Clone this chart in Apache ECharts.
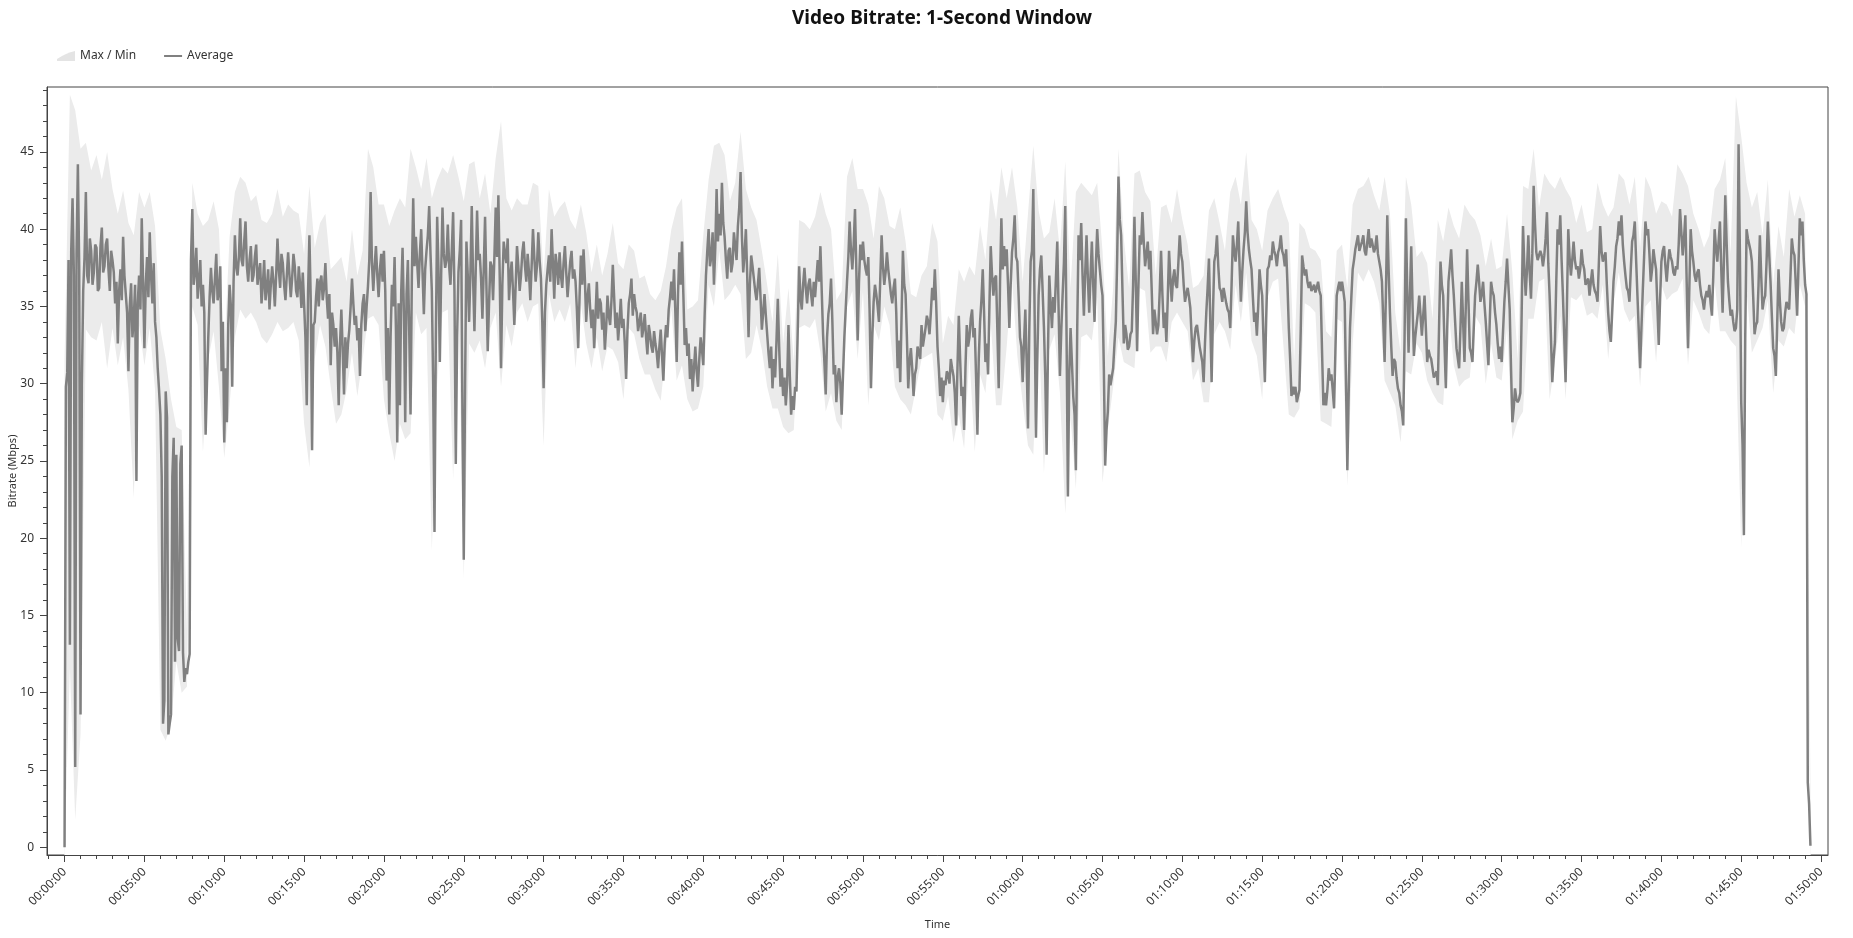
<!DOCTYPE html>
<html>
<head>
<meta charset="utf-8">
<title>Video Bitrate: 1-Second Window</title>
<script src="https://cdn.jsdelivr.net/npm/echarts@6/dist/echarts.min.js"></script>
<style>
  html, body { margin: 0; padding: 0; background: #fff; }
  #chart { width: 1853px; height: 938px; }
</style>
</head>
<body>
<div id="chart"></div>
<script>
// average bitrate (Mbps) read every 10 s (t = 0, 10, 20 ...), one row per minute
const AVG_STEP = 10
const avgMbps = [
  0, 30.7, 13.1, 42.0, 5.2, 44.2,
  8.6, 36.0, 42.4, 36.5, 38.6, 37.2,
  38.8, 36.2, 40.1, 37.6, 39.4, 36.0,
  38.0, 35.2, 32.6, 37.4, 39.5, 35.8,
  30.8, 36.5, 34.2, 23.7, 37.0, 40.7,
  32.3, 38.2, 39.8, 35.2, 34.0, 31.0,
  28.0, 8.0, 29.5, 7.3, 8.6, 26.5,
  25.4, 12.7, 26.0, 10.7, 11.2, 12.5,
  41.3, 37.2, 35.5, 38.0, 36.4, 26.7,
  33.0, 37.5, 35.2, 38.4, 36.0, 30.8,
  26.2, 27.5, 36.4, 29.8, 39.6, 37.0,
  40.7, 37.6, 40.5, 36.6, 38.9, 37.0,
  39.0, 37.2, 35.2, 38.0, 36.2, 34.8,
  37.6, 35.0, 39.4, 36.2, 37.8, 35.4,
  38.5, 35.6, 38.4, 36.0, 37.6, 34.9,
  35.2, 28.6, 39.6, 25.7, 34.0, 36.8,
  36.6, 35.4, 37.8, 34.2, 31.2, 33.8,
  33.6, 28.6, 34.8, 29.3, 31.0, 33.5,
  36.8, 33.8, 32.8, 30.5, 35.2, 33.4,
  36.3, 42.4, 36.0, 38.9, 35.6, 38.4,
  38.6, 30.2, 28.0, 36.4, 38.2, 26.2,
  28.6, 38.8, 27.5, 38.0, 28.0, 42.0,
  39.5, 36.2, 40.0, 34.5, 38.6, 41.5,
  36.0, 20.4, 40.8, 31.4, 41.4, 37.5,
  40.3, 36.4, 41.1, 24.8, 37.2, 40.6,
  18.6, 39.2, 34.0, 41.5, 33.4, 41.2,
  38.4, 34.2, 40.8, 32.1, 37.9, 35.4,
  41.4, 42.2, 31.0, 39.2, 37.8, 35.4,
  37.9, 33.8, 38.9, 36.0, 38.5, 37.6,
  38.4, 35.4, 40.0, 36.6, 39.8, 36.8,
  29.7, 36.4, 38.3, 40.0, 35.5, 37.6,
  38.5, 36.2, 38.9, 35.6, 37.9, 36.8,
  36.6, 32.3, 38.3, 38.7, 34.0, 36.5,
  33.6, 32.3, 36.6, 35.5, 33.5, 32.2,
  35.7, 33.8, 37.7, 33.6, 32.8, 35.5,
  34.2, 30.3, 35.2, 36.8, 35.8, 34.6,
  34.0, 33.0, 34.5, 31.9, 33.2, 32.0,
  32.6, 31.0, 33.5, 30.2, 33.8, 34.8,
  36.6, 37.4, 31.4, 38.5, 39.2, 32.5,
  31.8, 30.3, 29.5, 32.4, 29.8, 33.0,
  31.2, 37.0, 40.0, 38.2, 36.4, 42.6,
  41.0, 43.0, 39.5, 36.8, 38.8, 37.8,
  38.9, 40.2, 43.7, 37.2, 40.0, 33.0,
  38.3, 36.8, 35.4, 37.5, 33.5, 35.8,
  33.2, 31.0, 29.7, 30.4, 35.5, 29.8,
  29.2, 28.6, 33.8, 28.0, 28.3, 29.5,
  37.6, 34.8, 37.5, 35.2, 36.8, 35.0,
  35.6, 38.0, 38.9, 33.2, 29.3, 34.5,
  36.8, 30.6, 28.8, 31.0, 28.0, 33.0,
  36.6, 40.5, 37.4, 41.3, 32.8, 39.0,
  39.2, 37.4, 38.2, 29.7, 35.3, 35.8,
  34.0, 39.6, 36.4, 38.5, 36.6, 35.2,
  36.8, 31.0, 30.1, 38.6, 35.8, 29.7,
  32.3, 29.2, 31.0, 32.3, 33.8, 33.0,
  34.4, 33.2, 36.2, 37.4, 32.4, 29.2,
  28.8, 29.9, 30.6, 31.6, 30.5, 27.3,
  34.4, 29.2, 27.0, 33.8, 33.0, 34.8,
  33.6, 26.7, 34.0, 37.4, 31.4, 30.6,
  38.9, 35.7, 37.0, 29.7, 40.7, 38.9,
  38.7, 33.6, 38.5, 40.9, 37.9, 33.0,
  30.1, 34.8, 27.1, 37.9, 42.6, 26.5,
  35.7, 38.3, 33.6, 25.4, 37.0, 33.6,
  34.6, 39.2, 30.5, 35.7, 41.5, 22.7,
  33.6, 29.2, 24.4, 39.6, 40.4, 34.4,
  39.6, 34.6, 39.2, 34.0, 40.0, 37.4,
  35.7, 24.7, 28.2, 29.9, 31.0, 34.0,
  43.4, 39.6, 32.6, 33.2, 32.4, 33.4,
  40.8, 32.1, 39.6, 41.1, 37.6, 39.2,
  38.6, 33.2, 34.0, 33.8, 38.6, 33.6,
  32.7, 38.6, 35.3, 37.4, 36.2, 39.6,
  37.9, 35.3, 36.2, 34.9, 31.4, 33.6,
  33.1, 32.3, 30.1, 34.6, 38.1, 30.1,
  37.9, 39.6, 36.2, 35.3, 35.7, 34.8,
  33.6, 39.6, 37.9, 40.5, 35.3, 38.7,
  41.8, 38.7, 37.4, 34.0, 33.1, 37.4,
  35.7, 30.1, 37.4, 38.3, 39.2, 38.3,
  38.5, 39.6, 38.3, 38.7, 33.6, 29.2,
  29.3, 28.8, 29.6, 38.3, 37.0, 36.6,
  36.6, 36.2, 35.9, 36.6, 35.7, 28.6,
  28.6, 31.0, 30.6, 28.4, 35.7, 36.6,
  36.6, 35.3, 24.4, 33.6, 37.4, 38.7,
  39.6, 38.7, 39.6, 38.3, 40.0, 39.4,
  38.5, 39.6, 37.9, 36.6, 31.4, 40.9,
  34.6, 30.5, 31.4, 29.7, 28.6, 27.3,
  40.7, 32.0, 38.9, 31.8, 33.8, 35.7,
  33.1, 35.7, 31.4, 31.8, 31.0, 30.5,
  29.9, 37.9, 35.7, 29.7, 36.6, 38.7,
  35.7, 32.3, 31.0, 36.6, 31.4, 38.7,
  32.3, 31.4, 35.7, 37.7, 35.3, 36.6,
  34.0, 31.2, 36.6, 35.7, 33.8, 31.6,
  31.4, 35.3, 38.1, 34.8, 27.5, 29.7,
  28.8, 29.4, 40.2, 35.7, 39.6, 35.5,
  42.8, 38.5, 37.9, 38.3, 38.3, 41.1,
  35.7, 30.1, 32.7, 40.0, 40.9, 35.7,
  30.1, 40.0, 37.0, 39.2, 37.4, 36.8,
  38.7, 37.4, 36.6, 35.7, 37.4, 36.0,
  35.3, 40.2, 37.9, 38.5, 34.6, 32.7,
  36.6, 38.9, 40.5, 40.9, 37.9, 36.2,
  35.3, 39.2, 40.5, 35.7, 31.0, 36.0,
  40.5, 40.0, 36.6, 38.7, 37.4, 32.5,
  37.9, 38.9, 36.6, 38.7, 37.9, 37.0,
  37.4, 41.3, 38.3, 40.9, 32.3, 40.0,
  37.9, 36.6, 37.4, 35.7, 34.8, 36.0,
  36.4, 34.4, 40.0, 37.9, 40.5, 34.6,
  42.2, 36.6, 34.4, 34.0, 33.6, 45.5,
  28.8, 20.2, 40.0, 39.0, 37.9, 33.2,
  34.0, 39.6, 34.8, 35.7, 40.5, 36.6,
  32.3, 30.5, 37.4, 34.0, 33.6, 35.3,
  34.8, 39.4, 38.3, 34.4, 40.7, 40.5,
  36.4, 4.2, 0.1
]
// average bitrate read half-way between those (t = 5, 15, 25 ...), one row per minute
const avgMidMbps = [
  29.8, 38.0, 38.6, 37.0, 38.4, 37.5,
  30.0, 38.2, 37.0, 39.4, 36.4, 39.0,
  36.0, 38.9, 37.2, 39.0, 37.4, 38.6,
  37.2, 36.6, 36.0, 35.4, 37.0, 34.6,
  35.0, 33.0, 36.4, 35.2, 34.8, 36.6,
  36.4, 35.6, 37.0, 37.8, 33.0, 29.6,
  24.0, 9.5, 27.8, 8.0, 24.0, 12.0,
  13.5, 24.8, 12.6, 11.6, 12.0, 38.0,
  36.4, 38.8, 36.6, 35.0, 34.6, 30.0,
  35.6, 36.0, 36.8, 35.4, 37.6, 34.0,
  31.0, 33.8, 35.0, 36.6, 37.6, 38.2,
  38.0, 39.2, 37.6, 38.0, 36.6, 38.2,
  36.4, 37.8, 36.4, 35.4, 37.4, 36.4,
  36.6, 37.0, 37.4, 38.4, 36.4, 37.0,
  37.0, 36.8, 37.6, 35.6, 36.4, 37.2,
  33.0, 36.0, 35.4, 33.8, 35.6, 35.0,
  37.0, 36.2, 35.6, 35.8, 34.6, 32.4,
  32.0, 32.6, 32.2, 33.0, 32.6, 35.0,
  35.2, 34.4, 33.6, 33.8, 35.8, 35.0,
  38.0, 37.8, 37.6, 37.0, 37.4, 36.6,
  36.0, 33.6, 33.0, 35.0, 33.6, 35.2,
  36.0, 34.6, 35.8, 33.4, 37.0, 37.6,
  37.8, 38.4, 37.2, 37.4, 39.6, 38.4,
  30.0, 33.0, 37.4, 37.0, 38.4, 38.0,
  37.6, 38.6, 36.0, 33.0, 38.6, 28.0,
  30.0, 37.0, 37.2, 36.8, 37.4, 38.0,
  36.8, 37.4, 36.4, 35.2, 37.6, 38.2,
  38.2, 37.0, 36.4, 38.4, 39.4, 37.0,
  36.0, 36.4, 37.6, 37.0, 39.2, 36.6,
  37.2, 37.6, 38.2, 37.6, 38.0, 34.0,
  34.6, 37.4, 36.6, 37.8, 38.4, 36.4,
  37.0, 37.8, 37.2, 36.8, 38.6, 37.4,
  34.8, 35.6, 36.4, 36.8, 35.6, 34.8,
  34.8, 34.4, 34.2, 35.2, 34.6, 33.6,
  34.4, 35.4, 35.6, 34.6, 34.0, 33.6,
  32.6, 33.4, 35.8, 34.4, 35.0, 33.4,
  34.6, 33.6, 33.0, 33.8, 32.4, 33.4,
  32.0, 32.4, 31.8, 32.6, 33.0, 35.6,
  35.4, 34.6, 35.8, 36.4, 35.8, 33.6,
  32.6, 31.6, 31.0, 30.8, 31.6, 32.2,
  34.4, 38.6, 37.6, 39.8, 38.8, 39.2,
  39.6, 40.4, 38.0, 38.6, 37.2, 39.8,
  38.0, 41.4, 39.6, 38.4, 37.0, 36.4,
  37.6, 36.0, 36.4, 35.6, 34.6, 34.4,
  32.0, 32.4, 31.6, 32.8, 32.4, 31.0,
  30.4, 30.0, 30.6, 29.2, 29.8, 33.6,
  35.6, 36.4, 36.2, 36.4, 35.8, 36.6,
  36.8, 36.6, 36.0, 31.4, 33.0, 35.2,
  34.0, 31.2, 30.4, 30.0, 30.6, 34.8,
  38.2, 38.6, 39.0, 37.4, 36.6, 38.0,
  38.0, 37.0, 34.6, 33.0, 36.4, 35.0,
  36.8, 37.6, 37.2, 37.4, 35.8, 36.2,
  34.6, 32.8, 34.4, 36.4, 33.0, 31.4,
  31.0, 30.6, 32.4, 31.6, 32.4, 33.6,
  34.0, 34.6, 35.4, 35.2, 31.0, 30.4,
  30.2, 30.8, 30.0, 31.0, 29.4, 31.0,
  31.6, 29.8, 31.0, 32.4, 34.2, 33.0,
  30.4, 31.6, 35.4, 34.6, 32.6, 35.0,
  37.0, 36.8, 33.4, 36.6, 37.4, 37.6,
  36.4, 36.4, 39.4, 38.2, 35.6, 32.4,
  32.6, 31.4, 33.6, 38.6, 34.4, 31.6,
  37.4, 36.0, 30.4, 32.0, 35.2, 35.6,
  36.8, 34.8, 33.4, 37.8, 33.0, 30.6,
  31.4, 28.0, 33.6, 38.0, 37.0, 37.2,
  36.8, 37.0, 36.4, 37.6, 38.4, 36.4,
  31.0, 27.0, 30.6, 30.0, 32.6, 38.0,
  40.6, 36.0, 33.8, 32.2, 33.2, 36.4,
  36.6, 36.4, 39.0, 39.2, 38.4, 37.4,
  36.0, 34.8, 33.2, 36.0, 35.8, 34.6,
  35.4, 36.8, 36.8, 36.4, 37.8, 38.4,
  36.4, 35.8, 35.6, 33.0, 32.8, 33.8,
  32.4, 31.4, 32.6, 36.2, 34.0, 34.6,
  38.4, 37.6, 36.0, 36.2, 35.2, 34.6,
  36.4, 38.6, 39.0, 37.6, 37.2, 39.8,
  39.8, 38.0, 35.6, 34.6, 35.0, 36.4,
  32.8, 34.2, 37.6, 38.0, 38.6, 37.6,
  38.8, 38.6, 37.6, 36.4, 31.6, 29.8,
  29.8, 29.2, 33.6, 37.6, 37.4, 36.2,
  36.0, 36.4, 36.2, 36.0, 32.0, 29.4,
  29.6, 30.2, 29.6, 32.0, 36.2, 36.0,
  36.0, 30.0, 29.4, 35.6, 38.0, 38.8,
  38.6, 39.2, 38.6, 39.2, 38.8, 39.0,
  38.8, 38.4, 37.4, 34.0, 36.0, 37.4,
  32.4, 31.6, 30.4, 29.4, 28.2, 33.0,
  36.0, 35.6, 35.0, 33.0, 34.6, 34.4,
  34.4, 33.6, 32.2, 31.6, 30.4, 30.8,
  34.0, 36.4, 32.6, 33.4, 37.6, 37.0,
  34.0, 32.4, 33.6, 34.0, 35.0, 35.4,
  32.0, 33.6, 36.6, 36.6, 35.8, 35.2,
  32.6, 34.0, 36.0, 34.6, 32.6, 32.4,
  33.4, 36.6, 36.4, 31.0, 28.4, 29.0,
  29.0, 34.6, 37.6, 37.4, 37.2, 38.4,
  40.4, 38.0, 38.6, 37.6, 39.4, 37.8,
  33.0, 31.6, 36.6, 39.0, 38.0, 33.0,
  35.0, 38.2, 38.0, 38.0, 37.6, 37.4,
  37.8, 36.4, 36.8, 36.6, 36.4, 35.8,
  37.8, 38.6, 38.0, 36.4, 33.4, 34.6,
  37.6, 39.4, 39.6, 39.0, 37.0, 36.0,
  37.4, 39.6, 38.0, 33.4, 33.6, 38.2,
  39.6, 38.4, 37.4, 38.0, 35.0, 35.4,
  38.6, 37.6, 37.8, 38.2, 37.2, 37.6,
  39.0, 39.8, 39.4, 36.6, 36.2, 38.6,
  37.0, 37.2, 36.4, 35.4, 35.6, 35.6,
  35.2, 37.0, 38.8, 39.2, 37.4, 38.0,
  39.2, 35.4, 34.8, 33.4, 34.8, 38.4,
  26.0, 33.0, 39.4, 38.6, 35.6, 33.8,
  36.4, 37.0, 35.4, 37.8, 38.4, 34.4,
  31.8, 33.8, 35.4, 33.4, 34.6, 35.0,
  37.0, 38.6, 36.4, 37.6, 39.6, 38.0,
  35.8, 2.8
]

// max / min envelope (Mbps), one value every 20 s, one row per minute
const BAND_STEP = 20
const maxMbps = [
  31.6, 48.7, 47.7,  45.2, 45.6, 43.8,  44.8, 43.2, 45.0,  42.6, 41.0, 42.5,
  40.4, 39.6, 42.4,  41.4, 42.4, 40.2,  33.5, 31.6, 29.0,  27.2, 27.0, 14.0,
  43.0, 41.0, 40.2,  40.6, 41.8, 40.0,  32.0, 39.5, 42.4,  43.4, 43.0, 41.8,
  42.2, 40.6, 40.4,  41.0, 42.6, 40.8,  41.6, 41.2, 41.0,  38.4, 42.8, 38.8,
  40.4, 41.0, 37.4,  37.8, 38.2, 36.6,  40.0, 37.0, 38.6,  45.2, 44.0, 41.6,
  41.6, 40.2, 41.2,  42.0, 41.4, 45.2,  44.0, 42.6, 44.6,  42.0, 43.2, 44.0,
  43.6, 44.8, 43.4,  41.8, 44.2, 44.4,  42.0, 43.6, 41.0,  44.6, 47.0, 42.0,
  41.2, 42.0, 41.6,  41.6, 43.0, 42.8,  37.0, 42.6, 40.8,  41.4, 41.8, 40.6,
  40.0, 41.6, 39.8,  37.2, 39.0, 37.0,  38.4, 40.4, 37.8,  37.4, 39.0, 38.6,
  36.8, 37.0, 35.8,  35.4, 36.0, 37.6,  40.0, 41.4, 42.0,  34.8, 35.0, 35.4,
  39.6, 43.2, 45.4,  45.6, 44.8, 41.8,  43.0, 46.3, 42.6,  41.4, 40.6, 38.6,
  36.4, 34.0, 38.4,  32.6, 36.2, 31.4,  40.6, 40.4, 40.0,  40.8, 42.4, 41.0,
  40.0, 35.4, 36.0,  43.4, 44.6, 42.6,  42.6, 41.6, 39.4,  42.8, 42.0, 40.2,
  40.0, 41.4, 39.2,  35.8, 35.6, 37.0,  37.6, 40.4, 39.2,  32.6, 34.4, 33.8,
  37.4, 36.6, 37.6,  37.0, 40.2, 38.0,  42.6, 40.6, 44.0,  42.0, 44.0, 41.4,
  36.6, 41.0, 45.4,  41.2, 39.4, 39.8,  42.0, 38.6, 44.4,  36.2, 42.4, 43.0,
  42.6, 42.2, 43.0,  38.6, 31.8, 36.2,  45.2, 39.4, 36.2,  43.6, 43.8, 42.4,
  41.8, 37.0, 41.4,  41.6, 40.4, 42.6,  40.6, 39.0, 36.2,  36.4, 37.0, 41.2,
  42.0, 40.4, 38.6,  42.4, 43.4, 41.6,  45.0, 40.6, 40.0,  38.6, 41.2, 42.0,
  42.6, 41.4, 40.4,  31.4, 40.4, 40.0,  38.8, 38.6, 38.0,  33.4, 33.0, 38.6,
  39.0, 36.2, 41.6,  42.6, 42.8, 43.4,  42.2, 41.2, 43.4,  41.0, 34.6, 32.0,
  43.4, 41.6, 38.2,  38.6, 37.8, 34.2,  40.6, 39.2, 41.4,  40.2, 39.4, 41.6,
  41.0, 40.6, 39.6,  37.6, 39.4, 37.4,  37.6, 41.0, 37.2,  31.6, 42.8, 42.6,
  45.2, 41.4, 43.6,  43.0, 42.6, 43.4,  42.6, 42.0, 40.4,  41.6, 39.8, 40.0,
  43.0, 41.6, 40.8,  41.4, 43.6, 43.2,  41.6, 43.4, 38.8,  43.4, 42.6, 41.0,
  41.8, 41.6, 40.8,  44.2, 43.6, 42.8,  41.0, 40.0, 38.8,  39.6, 42.6, 43.2,
  44.6, 38.4, 48.6,  46.0, 43.0, 41.4,  42.4, 39.6, 43.2,  36.4, 40.2, 38.2,
  42.6, 40.8, 42.2,  41.0, 4.2
]
const minMbps = [
  0, 11.6, 1.8,  7.3, 33.5, 33.0,  32.8, 34.0, 31.0,  33.6, 31.2, 33.0,
  29.6, 22.6, 33.8,  31.2, 33.6, 29.6,  7.6, 6.9, 8.0,  12.0, 10.0, 10.4,
  35.0, 33.8, 25.6,  31.6, 33.4, 29.8,  25.2, 28.6, 33.0,  34.8, 34.2, 34.6,
  34.0, 33.0, 32.6,  33.2, 34.0, 33.4,  33.6, 34.0, 32.8,  27.4, 24.6, 31.6,
  33.8, 32.4, 29.8,  27.4, 28.0, 29.6,  32.0, 29.2, 31.6,  34.2, 34.4, 33.8,
  29.0, 26.8, 25.0,  27.4, 26.4, 26.8,  34.6, 33.2, 33.6,  19.2, 30.0, 34.6,
  34.8, 23.8, 35.0,  17.4, 32.6, 32.0,  32.8, 31.0, 33.6,  34.6, 29.8, 33.8,
  32.4, 34.6, 35.2,  34.0, 35.0, 35.2,  26.0, 35.8, 34.0,  34.8, 34.0, 35.2,
  31.0, 35.2, 32.6,  31.0, 33.0, 30.8,  32.4, 32.2, 31.4,  29.0, 33.6, 33.2,
  31.6, 30.6, 30.6,  29.6, 28.9, 32.2,  34.8, 30.2, 31.2,  29.0, 28.2, 28.4,
  29.8, 36.4, 35.0,  38.6, 35.4, 35.8,  36.4, 35.8, 31.6,  32.0, 33.8, 32.2,
  29.8, 28.4, 28.4,  27.2, 26.8, 27.0,  33.6, 33.8, 33.6,  34.2, 32.0, 28.2,
  29.4, 27.6, 27.0,  35.0, 36.0, 31.6,  36.0, 28.6, 33.8,  32.8, 35.0, 33.8,
  29.8, 29.0, 28.6,  28.0, 29.8, 31.6,  31.8, 32.0, 28.0,  27.6, 29.2, 26.2,
  28.0, 25.8, 31.8,  25.6, 30.6, 29.4,  34.0, 28.6, 28.6,  32.4, 36.8, 31.8,
  28.8, 26.0, 25.4,  33.8, 24.2, 32.2,  33.2, 29.4, 21.6,  27.8, 23.2, 33.0,
  33.2, 32.8, 35.6,  23.6, 27.0, 29.8,  33.0, 31.4, 31.2,  31.0, 36.2, 36.0,
  32.0, 32.4, 32.4,  31.4, 34.0, 34.6,  34.0, 33.4, 30.2,  31.0, 28.8, 28.8,
  33.2, 34.0, 33.4,  32.2, 36.4, 34.0,  37.2, 32.8, 31.8,  29.0, 35.6, 36.6,
  36.8, 32.4, 28.0,  27.8, 28.4, 35.2,  35.0, 34.6, 27.6,  27.4, 27.2, 34.2,
  34.0, 23.4, 32.6,  37.2, 36.6, 37.4,  36.6, 35.2, 30.2,  29.4, 28.6, 26.2,
  30.8, 30.6, 32.6,  32.0, 30.2, 29.4,  28.8, 28.6, 34.8,  31.2, 29.8, 30.2,
  30.4, 34.4, 33.8,  30.0, 32.6, 30.4,  30.2, 33.6, 26.4,  27.6, 28.2, 34.2,
  34.2, 36.6, 36.8,  29.0, 31.4, 34.4,  29.0, 35.6, 35.4,  35.8, 34.4, 34.6,
  34.2, 36.4, 31.6,  35.2, 37.2, 34.8,  34.0, 34.4, 29.8,  35.0, 35.4, 31.4,
  36.4, 35.4, 35.8,  36.0, 36.8, 31.2,  35.4, 34.6, 33.6,  33.2, 36.6, 33.4,
  33.4, 32.8, 32.4,  19.4, 36.0, 32.0,  32.8, 33.6, 35.4,  29.4, 32.8, 32.4,
  33.6, 33.2, 36.4,  35.0, 0
]

// tick labels: every 5 minutes on x, every 5 Mbps on y
const xTickSeconds = [0, 300, 600, 900, 1200, 1500, 1800, 2100, 2400, 2700, 3000, 3300,
  3600, 3900, 4200, 4500, 4800, 5100, 5400, 5700, 6000, 6300, 6600]
const yTickValues = [0, 5, 10, 15, 20, 25, 30, 35, 40, 45]

const X_MIN = -66, X_MAX = 6626
const Y_MIN = -0.5, Y_MAX = 49.2

const xMinor = []
for (let s = -60; s <= 6600; s += 60) xMinor.push(s)
const yMinor = []
for (let v = 0; v <= 49; v++) yMinor.push(v)

function hms(sec) {
  const h = Math.floor(sec / 3600), m = Math.floor((sec % 3600) / 60), s = sec % 60
  return [h, m, s].map((n) => String(n).padStart(2, '0')).join(':')
}

// merge the two readings into one time-ordered series
const avgData = []
avgMbps.forEach((v, i) => {
  avgData.push([i * AVG_STEP, v])
  if (i < avgMidMbps.length) avgData.push([i * AVG_STEP + AVG_STEP / 2, avgMidMbps[i]])
})
const maxData = maxMbps.map((v, i) => [i * BAND_STEP, v])
const minData = minMbps.map((v, i) => [i * BAND_STEP, v])

const FONT = 'Segoe UI, "Noto Sans", "Open Sans", sans-serif'
const AXIS_COLOR = '#444'
const TEXT_COLOR = '#333'
const BAND_COLOR = '#ebebeb'

const chart = echarts.init(document.getElementById('chart'))
chart.setOption({
  animation: false,
  textStyle: { fontFamily: FONT },
  title: {
    text: 'Video Bitrate: 1-Second Window',
    left: 937, top: 4, textAlign: 'center',
    textStyle: { fontFamily: FONT, fontSize: 19, fontWeight: 'bold', color: '#111' }
  },
  legend: {
    left: 52, top: 45, itemWidth: 18, itemHeight: 10, itemGap: 28,
    textStyle: { fontFamily: FONT, fontSize: 12, color: TEXT_COLOR },
    data: [
      { name: 'Max / Min', icon: 'path://M0,10 L0,8 Q9,2 18,0 L18,10 Z', itemStyle: { color: '#e4e4e4' } },
      { name: 'Average', icon: 'path://M0,0 L18,0 L18,2 L0,2 Z' }
    ]
  },
  grid: {
    left: 47, top: 87, width: 1781, height: 768,
    show: true, borderColor: AXIS_COLOR, borderWidth: 1,
    containLabel: false, outerBoundsMode: 'none'
  },
  xAxis: [
    {
      type: 'value', min: X_MIN, max: X_MAX, z: 10,
      name: 'Time', nameLocation: 'middle', nameGap: 64, nameMoveOverlap: false,
      nameTextStyle: { fontFamily: FONT, fontSize: 11, color: TEXT_COLOR },
      axisLine: { onZero: false, lineStyle: { color: AXIS_COLOR, width: 1 } },
      axisTick: { show: true, length: 7, customValues: xTickSeconds, lineStyle: { color: AXIS_COLOR } },
      axisLabel: {
        customValues: xTickSeconds, rotate: 45, margin: 15,
        fontFamily: FONT, fontSize: 12, color: TEXT_COLOR,
        formatter: (v) => hms(v)
      },
      splitLine: { show: false }
    },
    {
      type: 'value', min: X_MIN, max: X_MAX, position: 'bottom', z: 10,
      axisLine: { show: false, onZero: false },
      axisTick: { show: true, length: 4, customValues: xMinor, lineStyle: { color: AXIS_COLOR } },
      axisLabel: { show: false },
      splitLine: { show: false }
    }
  ],
  yAxis: [
    {
      type: 'value', min: Y_MIN, max: Y_MAX, z: 10,
      name: 'Bitrate (Mbps)', nameLocation: 'middle', nameGap: 29, nameMoveOverlap: false,
      nameTextStyle: { fontFamily: FONT, fontSize: 11, color: TEXT_COLOR },
      axisLine: { show: true, onZero: false, lineStyle: { color: AXIS_COLOR, width: 1 } },
      axisTick: { show: true, length: 7, customValues: yTickValues, lineStyle: { color: AXIS_COLOR } },
      axisLabel: { customValues: yTickValues, margin: 13, fontFamily: FONT, fontSize: 12, color: TEXT_COLOR },
      splitLine: { show: false }
    },
    {
      type: 'value', min: Y_MIN, max: Y_MAX, position: 'left', offset: 0, z: 10,
      axisLine: { show: false, onZero: false },
      axisTick: { show: true, length: 4, customValues: yMinor, lineStyle: { color: AXIS_COLOR } },
      axisLabel: { show: false },
      splitLine: { show: false }
    }
  ],
  series: [
    {
      // upper edge of the envelope, filled down to the axis
      name: 'Max / Min', type: 'line', data: maxData,
      symbol: 'none', silent: true,
      itemStyle: { color: BAND_COLOR },
      lineStyle: { width: 0, opacity: 0 },
      areaStyle: { color: BAND_COLOR, opacity: 1, origin: 'start' }, z: 1
    },
    {
      // lower edge of the envelope: white fill masks everything under the minimum
      name: 'band-min', type: 'line', data: minData,
      symbol: 'none', silent: true,
      lineStyle: { width: 0, opacity: 0 },
      areaStyle: { color: '#ffffff', opacity: 1, origin: 'start' }, z: 2
    },
    {
      name: 'Average', type: 'line', data: avgData,
      symbol: 'none', silent: true,
      itemStyle: { color: '#808080' },
      lineStyle: { color: '#808080', width: 2.5 }, z: 3
    }
  ]
})
</script>
</body>
</html>
